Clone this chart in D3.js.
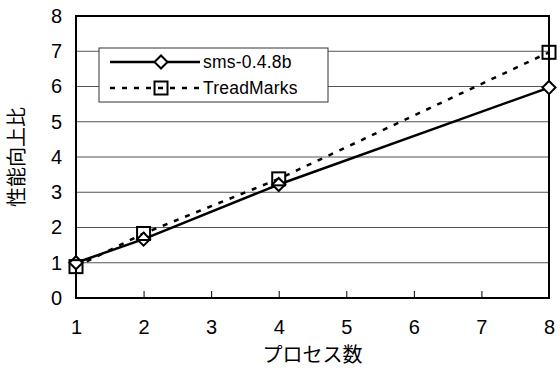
<!DOCTYPE html>
<html>
<head>
<meta charset="utf-8">
<script src="https://cdn.jsdelivr.net/npm/d3@7"></script>
<style>
  body { margin: 0; background: #fff; }
  text { font-family: "Liberation Sans", Arial, "Noto Sans CJK JP", sans-serif; }
</style>
</head>
<body>
<div id="chart"></div>
<script>
// data
const procs = [1, 2, 4, 8]
const sms = [1.0, 1.67, 3.22, 5.97]
const treadmarks = [0.89, 1.83, 3.38, 6.97]
const xTicks = [1, 2, 3, 4, 5, 6, 7, 8]
const yTicks = [0, 1, 2, 3, 4, 5, 6, 7, 8]
const seriesNames = ['sms-0.4.8b', 'TreadMarks']

const width = 560, height = 374
const margin = {left: 76, right: 11, top: 16, bottom: 76}

const svg = d3.select('#chart').append('svg')
    .attr('width', width)
    .attr('height', height)

const x = d3.scaleLinear().domain([1, 8]).range([margin.left, width - margin.right])
const y = d3.scaleLinear().domain([0, 8]).range([height - margin.bottom, margin.top])

// gridlines
svg.append('g')
    .selectAll('line')
    .data(yTicks.slice(1, -1))
    .enter()
    .append('line')
    .attr('x1', x(1)).attr('x2', x(8))
    .attr('y1', d => y(d)).attr('y2', d => y(d))
    .attr('stroke', '#555')
    .attr('stroke-width', 1)

// plot border
svg.append('rect')
    .attr('x', x(1)).attr('y', y(8))
    .attr('width', x(8) - x(1)).attr('height', y(0) - y(8))
    .attr('fill', 'none')
    .attr('stroke', '#000')
    .attr('stroke-width', 2)

// x axis, ticks pointing inward
const xAxis = svg.append('g')
    .attr('transform', `translate(0,${y(0)})`)
    .call(d3.axisBottom(x).tickValues(xTicks).tickFormat(d3.format('d'))
        .tickSizeInner(-7).tickSizeOuter(0).tickPadding(22))
xAxis.select('.domain').remove()
xAxis.selectAll('line').attr('stroke', '#000')
xAxis.selectAll('text').attr('font-size', 20).attr('fill', '#000')

const yAxis = svg.append('g')
    .attr('transform', `translate(${x(1)},0)`)
    .call(d3.axisLeft(y).tickValues(yTicks).tickFormat(d3.format('d')).tickSize(0).tickPadding(14))
yAxis.select('.domain').remove()
yAxis.selectAll('text').attr('font-size', 20).attr('fill', '#000')

// axis titles
svg.append('text')
    .attr('x', (x(1) + x(8)) / 2)
    .attr('y', 362)
    .attr('text-anchor', 'middle')
    .attr('font-size', 20)
    .text('プロセス数')

svg.append('text')
    .attr('transform', `translate(24,${(y(0) + y(8)) / 2}) rotate(-90)`)
    .attr('text-anchor', 'middle')
    .attr('font-size', 20)
    .text('性能向上比')

const line = d3.line()
    .x((d, i) => x(procs[i]))
    .y(d => y(d))

svg.append('path')
    .datum(treadmarks)
    .attr('d', line)
    .attr('fill', 'none')
    .attr('stroke', '#000')
    .attr('stroke-width', 2.5)
    .attr('stroke-dasharray', '5,7')

svg.append('path')
    .datum(sms)
    .attr('d', line)
    .attr('fill', 'none')
    .attr('stroke', '#000')
    .attr('stroke-width', 2.5)

const diamond = d3.symbol().type(d3.symbolSquare).size(85)

function drawDiamond(g, cx, cy) {
    g.append('path')
        .attr('d', diamond())
        .attr('transform', `translate(${cx},${cy}) rotate(45)`)
        .attr('fill', '#fff')
        .attr('stroke', '#000')
        .attr('stroke-width', 2)
}
function drawSquare(g, cx, cy) {
    g.append('rect')
        .attr('x', cx - 6.5).attr('y', cy - 6.5)
        .attr('width', 13).attr('height', 13)
        .attr('fill', 'none')
        .attr('stroke', '#000')
        .attr('stroke-width', 2)
}

const marks = svg.append('g')
sms.forEach((v, i) => drawDiamond(marks, x(procs[i]), y(v)))
treadmarks.forEach((v, i) => drawSquare(marks, x(procs[i]), y(v)))

// legend
const legend = svg.append('g')
legend.append('rect')
    .attr('x', 99).attr('y', 48)
    .attr('width', 229).attr('height', 54)
    .attr('fill', '#fff')
    .attr('stroke', '#333')
    .attr('stroke-width', 1)

const legendRows = [
    {name: seriesNames[0], y: 62, dash: null, mark: drawDiamond},
    {name: seriesNames[1], y: 88, dash: '5,7', mark: drawSquare}
]
legendRows.forEach(row => {
    legend.append('line')
        .attr('x1', 110).attr('x2', 200)
        .attr('y1', row.y).attr('y2', row.y)
        .attr('stroke', '#000')
        .attr('stroke-width', 2.5)
        .attr('stroke-dasharray', row.dash)
    row.mark(legend, 161, row.y)
    legend.append('text')
        .attr('x', 203).attr('y', row.y)
        .attr('dy', '0.35em')
        .attr('font-size', 17.5)
        .attr('letter-spacing', 0.2)
        .text(row.name)
})
</script>
</body>
</html>
